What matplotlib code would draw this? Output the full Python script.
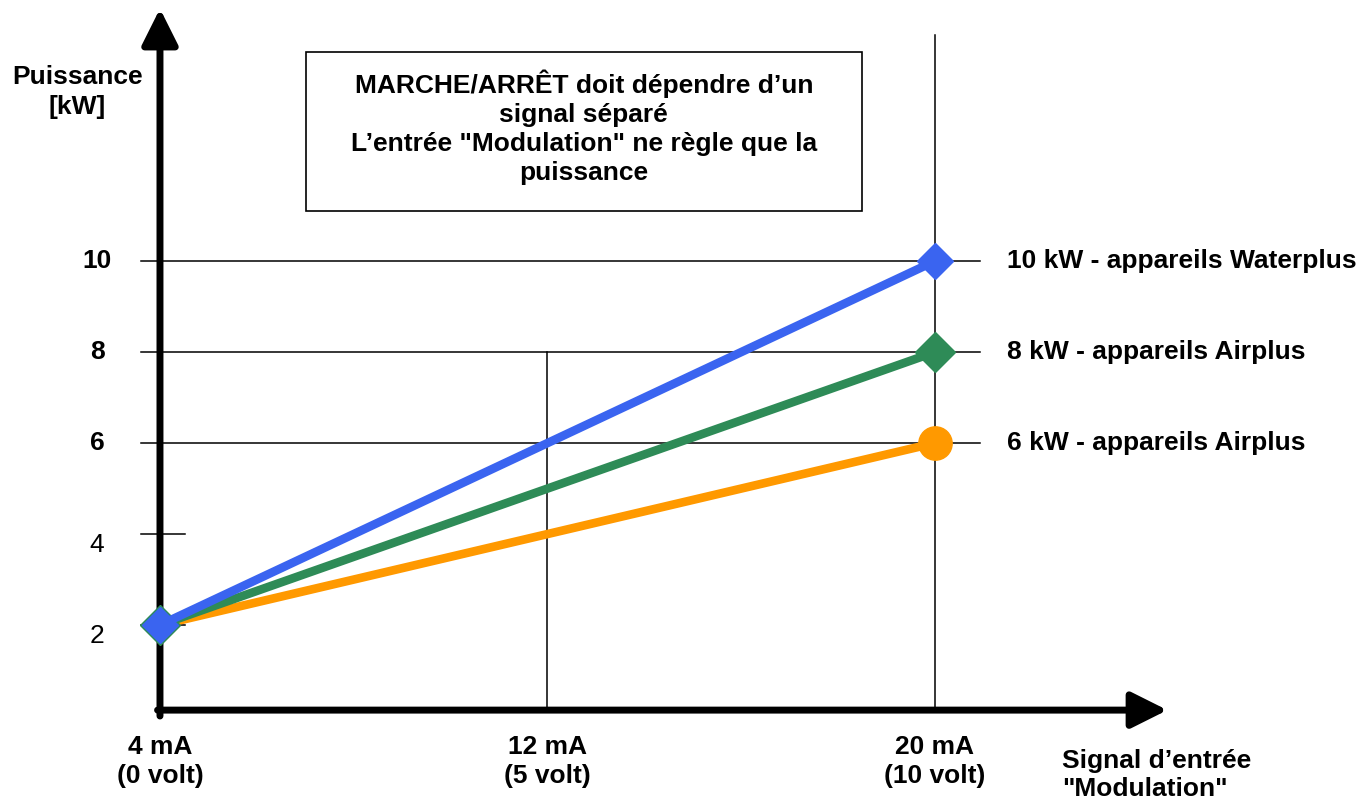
import matplotlib.pyplot as plt
from matplotlib.patches import Rectangle

plt.rcParams['font.family'] = ['Liberation Sans', 'DejaVu Sans']

# data
courant = [4, 20]                      # mA
waterplus_10 = [2, 10]                 # kW
airplus_8 = [2, 8]
airplus_6 = [2, 6]

ticks_y = [2, 4, 6, 8, 10]
ticks_bold = [False, False, True, True, True]
ticks_x = [4, 12, 20]
ticks_x_labels = ["4 mA\n(0 volt)", "12 mA\n(5 volt)", "20 mA\n(10 volt)"]
series_labels = ["10 kW - appareils Waterplus", "8 kW - appareils Airplus",
                 "6 kW - appareils Airplus"]
note = ("MARCHE/ARRÊT doit dépendre d\u2019un\nsignal séparé\n"
        "L\u2019entrée \"Modulation\" ne règle que la\npuissance")

FS = 19

fig = plt.figure(figsize=(13.66, 8), dpi=100)
ax = fig.add_axes([0, 0, 1, 1])
ax.set_xlim(0.697, 28.9)
ax.set_ylim(-1.846, 15.74)
ax.axis('off')

# grid lines and ticks
for y in [6, 8, 10]:
    ax.plot([3.6, 20.93], [y, y], color='black', lw=1.1, zorder=1)
for y in [2, 4]:
    ax.plot([3.6, 4.52], [y, y], color='black', lw=1.1, zorder=1)
ax.plot([12, 12], [0.1, 8], color='black', lw=1.1, zorder=1)
ax.plot([20, 20], [0.1, 14.97], color='black', lw=1.1, zorder=1)

# axes with arrows
style = '-|>,head_length=1.1,head_width=0.55'
ax.annotate('', xy=(4, 15.55), xytext=(4, 0.0),
            arrowprops=dict(arrowstyle=style, lw=5, color='black',
                            mutation_scale=20, shrinkA=0, shrinkB=0))
ax.annotate('', xy=(24.8, 0.13), xytext=(3.95, 0.13),
            arrowprops=dict(arrowstyle=style, lw=5, color='black',
                            mutation_scale=20, shrinkA=0, shrinkB=0))

# series
ax.plot(courant, airplus_6, color='#ff9900', lw=6.2, zorder=3,
        solid_capstyle='butt')
ax.plot(courant[1:], airplus_6[1:], 'o', color='#ff9900', ms=24, zorder=4)
ax.plot(courant, airplus_8, color='#2e8b57', lw=6.2, zorder=5,
        solid_capstyle='butt', marker='D', ms=20, markevery=[0, 1])
ax.plot(courant, waterplus_10, color='#3a64f0', lw=6.2, zorder=6,
        solid_capstyle='butt')
ax.plot(courant, waterplus_10, 'D', color='#3a64f0', ms=18, zorder=7)

# tick labels
for y, b in zip(ticks_y, ticks_bold):
    off = 0 if b else -0.25
    ax.text(2.7, y + off, str(y), ha='center', va='center', fontsize=FS,
            fontweight='bold' if b else 'normal')
for x, lab in zip(ticks_x, ticks_x_labels):
    ax.text(x, -1.0, lab, ha='center', va='center', fontsize=FS,
            fontweight='bold', linespacing=1.25)

ax.text(2.29, 13.72, "Puissance\n[kW]", ha='center', va='center',
        fontsize=FS, fontweight='bold', linespacing=1.3)
ax.text(22.62, -1.3, "Signal d\u2019entrée\n\"Modulation\"", ha='left',
        va='center', fontsize=FS, fontweight='bold', linespacing=1.2)

for y, lab in zip([10, 8, 6], series_labels):
    ax.text(21.49, y, lab, ha='left', va='center', fontsize=FS,
            fontweight='bold')

# note box
ax.add_patch(Rectangle((7.01, 11.10), 11.48, 3.5, fc='white', ec='black',
                       lw=1.2, zorder=2))
ax.text(12.75, 12.94, note, ha='center', va='center', fontsize=FS,
        fontweight='bold', linespacing=1.27, zorder=3)

fig.savefig('out.png', dpi=100)
